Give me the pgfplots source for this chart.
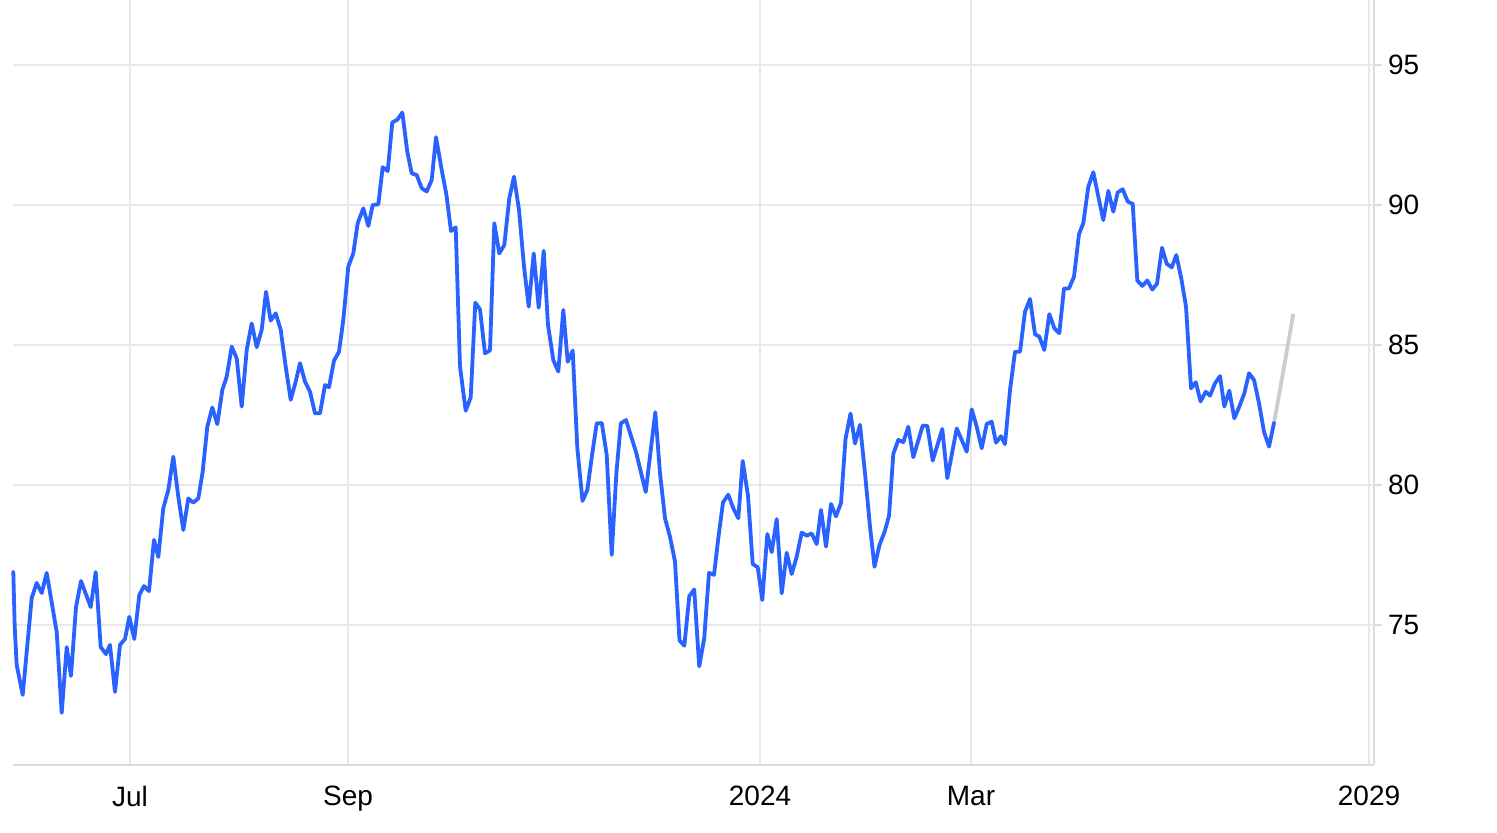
\documentclass[border=0pt]{standalone}
\usepackage{pgfplots}
\pgfplotsset{compat=1.18}
\usepackage{fontspec}
\setmainfont{Liberation Sans}
\definecolor{lineblue}{RGB}{41,98,255}
\definecolor{projgray}{RGB}{204,204,204}
\definecolor{gridgray}{RGB}{232,232,232}
\definecolor{axgray}{RGB}{220,220,220}
\begin{document}
\begin{tikzpicture}
\begin{axis}[
  scale only axis,
  width=680.5pt, height=382.5pt,
  xmin=13, xmax=1374,
  ymin=70, ymax=97.32,
  axis x line*=bottom, axis y line*=right,
  axis line style={axgray, line width=0.8pt},
  xtick={130,348,760,971,1369},
  xticklabels={Jul,Sep,2024,Mar,2029},
  ytick={75,80,85,90,95},
  grid=major,
  grid style={gridgray, line width=0.8pt},
  x tick style={draw=none},
  y tick style={axgray, line width=0.8pt},
  tick align=outside,
  major tick length=4pt,
  /pgf/number format/assume math mode=true,
  tick label style={font=\fontsize{14}{16}\selectfont, black},
  xticklabel style={yshift=-3pt},
  yticklabel style={xshift=-0.5pt},
  clip=false,
]
\addplot[projgray, line width=1.9pt, line join=round] coordinates {
(1274,82.22) (1280,83.40) (1293.3,86.11)
};
\addplot[lineblue, line width=1.9pt, line join=round, line cap=round] coordinates {
(13.3,76.90) (14.7,74.94) (16.7,73.57) (22.7,72.50) (31.7,75.96) (36.7,76.50)
(41.7,76.14) (46.7,76.86) (56.7,74.75) (61.7,71.86) (66.7,74.21) (71,73.18)
(76,75.64) (81,76.57) (90.7,75.64) (95.7,76.89) (100.7,74.21) (106,73.96)
(110,74.29) (115,72.61) (120,74.29) (125,74.50) (129.3,75.29) (134.3,74.50)
(139.3,76.07) (144,76.39) (149,76.21) (154,78.04) (158.3,77.43) (163.3,79.17)
(168.3,79.82) (173.3,81.01) (178.3,79.58) (183.3,78.39) (188.3,79.52) (193.3,79.37)
(198.3,79.52) (202.7,80.48) (207.3,82.08) (212.3,82.77) (217.3,82.17) (222.3,83.39)
(226.7,83.87) (231.7,84.94) (236.7,84.52) (241.7,82.80) (246.7,84.82) (251.7,85.77)
(256.7,84.92) (261.7,85.54) (266,86.90) (270.7,85.87) (275.7,86.13) (280.7,85.54)
(285.7,84.23) (290.7,83.04) (295.7,83.69) (300,84.35) (305,83.69) (310,83.33)
(315,82.56) (320,82.56) (325,83.57) (329,83.49) (334,84.44) (339,84.76)
(343.3,85.89) (348.3,87.80) (353.3,88.27) (357.7,89.35) (363.3,89.88) (368.3,89.25)
(372.7,90.00) (378.3,90.02) (382.7,91.35) (387.7,91.21) (392.3,92.95) (397.3,93.04)
(402.3,93.30) (407.3,91.90) (411.7,91.13) (416.7,91.07) (421.7,90.60) (426.7,90.48)
(431.7,90.89) (436,92.42) (441.7,91.25) (446.3,90.39) (451,89.07) (455.7,89.20)
(460,84.23) (465.7,82.65) (470.7,83.13) (475.3,86.51) (480,86.27) (485,84.70)
(490,84.81) (494.3,89.35) (499.3,88.27) (504.3,88.57) (509.3,90.24) (514,91.01)
(519,89.82) (524,87.80) (528.7,86.37) (533.7,88.27) (538.7,86.33) (543.7,88.36)
(548,85.71) (553.3,84.46) (558.3,84.05) (563.3,86.25) (567.7,84.40) (572.7,84.80)
(577.3,81.32) (582.5,79.43) (587.3,79.82) (592.3,81.13) (596.7,82.20) (601.8,82.21)
(606.7,81.07) (611.7,77.50) (616.3,80.39) (620.8,82.20) (626,82.32) (636,81.18)
(645.7,79.75) (655.3,82.60) (660,80.42) (665,78.81) (670,78.15) (675,77.26)
(679.5,74.45) (684.3,74.26) (689.3,76.03) (694.2,76.27) (699.2,73.52) (704.2,74.52)
(709,76.86) (714,76.79) (718.3,78.10) (723,79.38) (728.3,79.65) (733.3,79.17)
(738.3,78.81) (742.7,80.86) (748,79.61) (752.7,77.18) (757.7,77.06) (762.3,75.89)
(767.3,78.25) (771.7,77.60) (776.7,78.78) (781.7,76.13) (786.7,77.58) (791.7,76.82)
(796.7,77.44) (801.7,78.30) (806.7,78.19) (811.7,78.27) (816.7,77.89) (821,79.11)
(826,77.80) (831,79.32) (836,78.88) (841,79.36) (845.5,81.64) (850.5,82.55)
(855,81.48) (860,82.15) (865,80.42) (870,78.51) (874.5,77.08) (879.5,77.86)
(884.5,78.32) (889,78.89) (893.3,81.11) (898.3,81.61) (903.3,81.53) (908.3,82.08)
(913.3,80.99) (922.7,82.12) (927.3,82.11) (932.7,80.87) (942.3,82.00) (947.3,80.24)
(956.7,82.02) (961.7,81.61) (966.7,81.19) (971.7,82.70) (976.7,82.08) (981.7,81.31)
(986.7,82.18) (991.7,82.26) (996,81.51) (1001,81.74) (1005,81.46) (1010,83.39)
(1015,84.76) (1020,84.76) (1025,86.19) (1030,86.64) (1035,85.38) (1039.3,85.30)
(1044.3,84.82) (1049.3,86.10) (1054.3,85.60) (1059.3,85.42) (1064,87.02) (1069,87.02)
(1074,87.44) (1079,88.96) (1083.3,89.35) (1088.3,90.65) (1093.3,91.17) (1098.3,90.30)
(1103.3,89.46) (1108.3,90.50) (1113.3,89.76) (1117.7,90.45) (1122.7,90.56) (1127.7,90.12)
(1132.7,90.04) (1137.3,87.30) (1142.3,87.11) (1147.3,87.30) (1152.3,86.98) (1157,87.19)
(1162,88.47) (1166.7,87.90) (1171.7,87.77) (1176.3,88.21) (1181.3,87.37) (1186,86.37)
(1191,83.45) (1195.8,83.67) (1200.5,82.98) (1205.7,83.33) (1210,83.19) (1215,83.63)
(1220,83.89) (1224.3,82.80) (1229.3,83.37) (1234.3,82.38) (1239.3,82.80) (1244.3,83.27)
(1249,83.99) (1254,83.75) (1259,82.92) (1264,81.90) (1269,81.37) (1274,82.22)
};
\end{axis}
\pgfresetboundingbox
\path[use as bounding box] (-6.5pt,-34pt) rectangle (742pt,382.5pt);
\end{tikzpicture}
\end{document}
